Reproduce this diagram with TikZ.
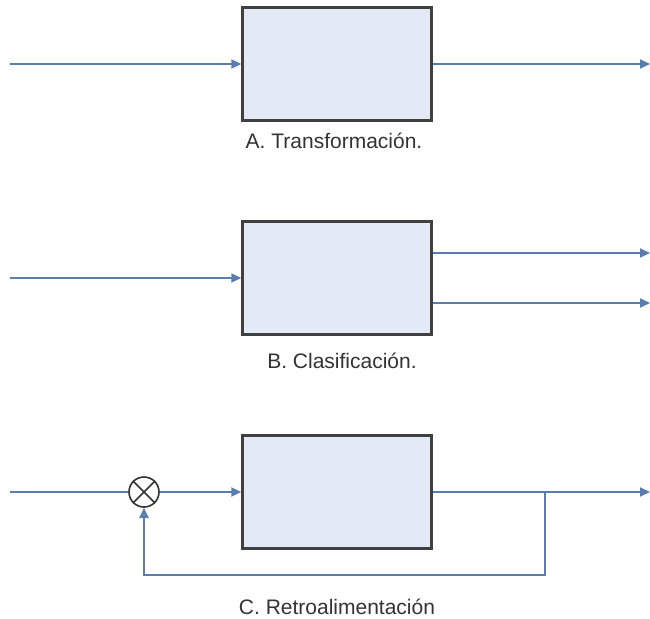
\documentclass[tikz,border=0pt]{standalone}
\usepackage{fontspec}
\setmainfont{Liberation Sans}
\usetikzlibrary{arrows.meta}
\definecolor{flow}{HTML}{5A7DB0}
\definecolor{boxfill}{HTML}{E4EAF5}
\definecolor{boxline}{HTML}{404040}
\begin{document}
\begin{tikzpicture}[x=1pt,y=-1pt,
  blk/.style={draw=boxline,fill=boxfill,line width=2.4pt,minimum width=189pt,minimum height=113pt,inner sep=0pt},
  flowline/.style={draw=flow,line width=2pt,-{Triangle[length=10pt,width=9pt]}},
  plainline/.style={draw=flow,line width=2pt},
  lbl/.style={font=\fontsize{21}{24}\selectfont,text=black!80,inner sep=0pt,anchor=base},
  mixer/.style={circle,draw=black!80,line width=1.6pt,minimum size=30pt,inner sep=0pt}]
\useasboundingbox (0,0) rectangle (650,618);
% A
\node[blk] (A) at (337,64) {};
\coordinate (Ain) at (10,64);
\coordinate (Aout) at (650,64);
\draw[flowline] (Ain) -- (A.west);
\draw[flowline] (A.east) -- (Aout);
\node[lbl] (Alab) at (334,148) {A. Transformación.};
% B
\node[blk] (B) at (337,278) {};
\coordinate (Bin) at (10,278);
\coordinate (Bo1) at (650,253);
\coordinate (Bo2) at (650,303);
\draw[flowline] (Bin) -- (B.west);
\draw[flowline] (B.east |- Bo1) -- (Bo1);
\draw[flowline] (B.east |- Bo2) -- (Bo2);
\node[lbl] (Blab) at (342,368) {B. Clasificación.};
% C
\node[blk] (C) at (337,492) {};
\node[mixer] (M) at (144,492) {};
\draw[black!80,line width=1.6pt] (M.north west) -- (M.south east) (M.north east) -- (M.south west);
\coordinate (Cin) at (10,492);
\coordinate (Cout) at (650,492);
\coordinate (J) at (545,492);
\coordinate (Jb) at (545,575);
\coordinate (Mb) at (144,575);
\draw[plainline] (Cin) -- (M.west);
\draw[flowline] (M.east) -- (C.west);
\draw[flowline] (C.east) -- (Cout);
\draw[flowline] (J) -- (Jb) -- (Mb) -- (M.south);
\node[lbl] (Clab) at (337,614) {C. Retroalimentación};
\end{tikzpicture}
\end{document}
